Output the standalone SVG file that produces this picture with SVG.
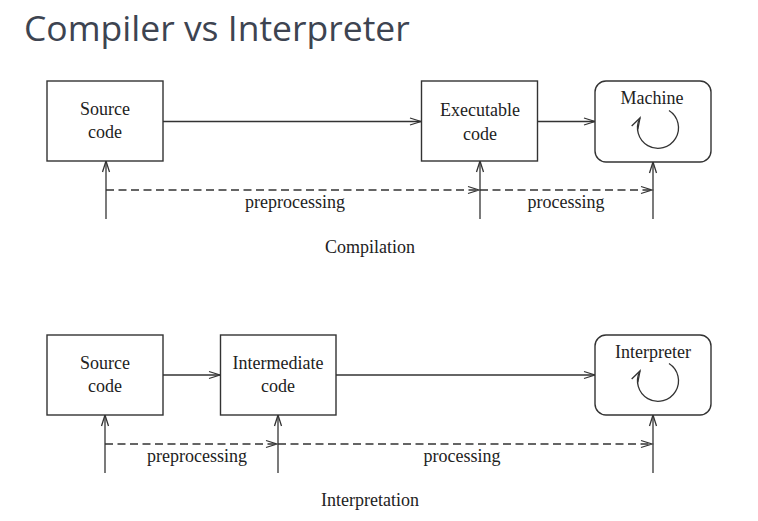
<svg xmlns="http://www.w3.org/2000/svg" width="758" height="521" viewBox="0 0 758 521">
<defs>
<style>
.box{fill:#fff;stroke:#333;stroke-width:1.4}
.ln{fill:none;stroke:#333;stroke-width:1.3}
.dash{fill:none;stroke:#333;stroke-width:1.3;stroke-dasharray:8,4.5}
.t{font-family:"Liberation Serif","Times New Roman",serif;font-size:18px;fill:#222;text-anchor:middle}
.title{font-family:"Open Sans","Noto Sans",sans-serif;font-size:35.5px;fill:#3d4451}
</style>
<marker id="ah" markerWidth="14" markerHeight="10" refX="12" refY="5" orient="auto" markerUnits="userSpaceOnUse">
<path d="M1,1.5 L12,5 L1,8.5" fill="none" stroke="#333" stroke-width="1.3"/>
</marker>
</defs>
<rect width="758" height="521" fill="#fff"/>
<text class="title" x="24" y="41">Compiler vs Interpreter</text>

<g id="connectors">
<!-- compilation -->
<line class="ln" x1="163" y1="121.5" x2="421" y2="121.5" marker-end="url(#ah)"/>
<line class="ln" x1="537" y1="121.5" x2="595" y2="121.5" marker-end="url(#ah)"/>
<line class="ln" x1="106" y1="219" x2="106" y2="161" marker-end="url(#ah)"/>
<line class="ln" x1="480" y1="219" x2="480" y2="161" marker-end="url(#ah)"/>
<line class="ln" x1="653" y1="219" x2="653" y2="162" marker-end="url(#ah)"/>
<line class="dash" x1="106" y1="190" x2="479" y2="190" marker-end="url(#ah)"/>
<line class="dash" x1="480" y1="190" x2="652" y2="190" marker-end="url(#ah)"/>
<!-- interpretation -->
<line class="ln" x1="163" y1="375" x2="220" y2="375" marker-end="url(#ah)"/>
<line class="ln" x1="336" y1="375" x2="595" y2="375" marker-end="url(#ah)"/>
<line class="ln" x1="105" y1="473" x2="105" y2="415" marker-end="url(#ah)"/>
<line class="ln" x1="278" y1="473" x2="278" y2="415" marker-end="url(#ah)"/>
<line class="ln" x1="653" y1="473" x2="653" y2="415" marker-end="url(#ah)"/>
<line class="dash" x1="105" y1="444" x2="277" y2="444" marker-end="url(#ah)"/>
<line class="dash" x1="278" y1="444" x2="652" y2="444" marker-end="url(#ah)"/>
</g>

<g id="source1">
<rect class="box" x="47" y="81" width="116" height="80"/>
<text class="t" x="105" y="115">Source</text>
<text class="t" x="105" y="138">code</text>
</g>
<g id="executable">
<rect class="box" x="421.5" y="81" width="116" height="80"/>
<text class="t" x="480" y="116">Executable</text>
<text class="t" x="480" y="140">code</text>
</g>
<g id="machine">
<rect class="box" x="595" y="81" width="116" height="81" rx="11"/>
<text class="t" x="652" y="104">Machine</text>
<path class="ln" d="M669,110.5 A20.5,20.5 0 1 1 640,118" marker-end="url(#ah)"/>
</g>

<g id="source2">
<rect class="box" x="47" y="335" width="116" height="80"/>
<text class="t" x="105" y="369">Source</text>
<text class="t" x="105" y="392">code</text>
</g>
<g id="intermediate">
<rect class="box" x="220.5" y="335" width="115.5" height="80"/>
<text class="t" x="278" y="369">Intermediate</text>
<text class="t" x="278" y="392">code</text>
</g>
<g id="interpreter">
<rect class="box" x="595" y="335" width="116" height="80" rx="11"/>
<text class="t" x="653" y="358">Interpreter</text>
<path class="ln" d="M669,363.5 A20.5,20.5 0 1 1 640,371" marker-end="url(#ah)"/>
</g>

<g id="labels">
<text class="t" x="295" y="208">preprocessing</text>
<text class="t" x="566" y="208">processing</text>
<text class="t" x="370" y="253">Compilation</text>
<text class="t" x="197" y="462">preprocessing</text>
<text class="t" x="462" y="462">processing</text>
<text class="t" x="370" y="506">Interpretation</text>
</g>
</svg>
